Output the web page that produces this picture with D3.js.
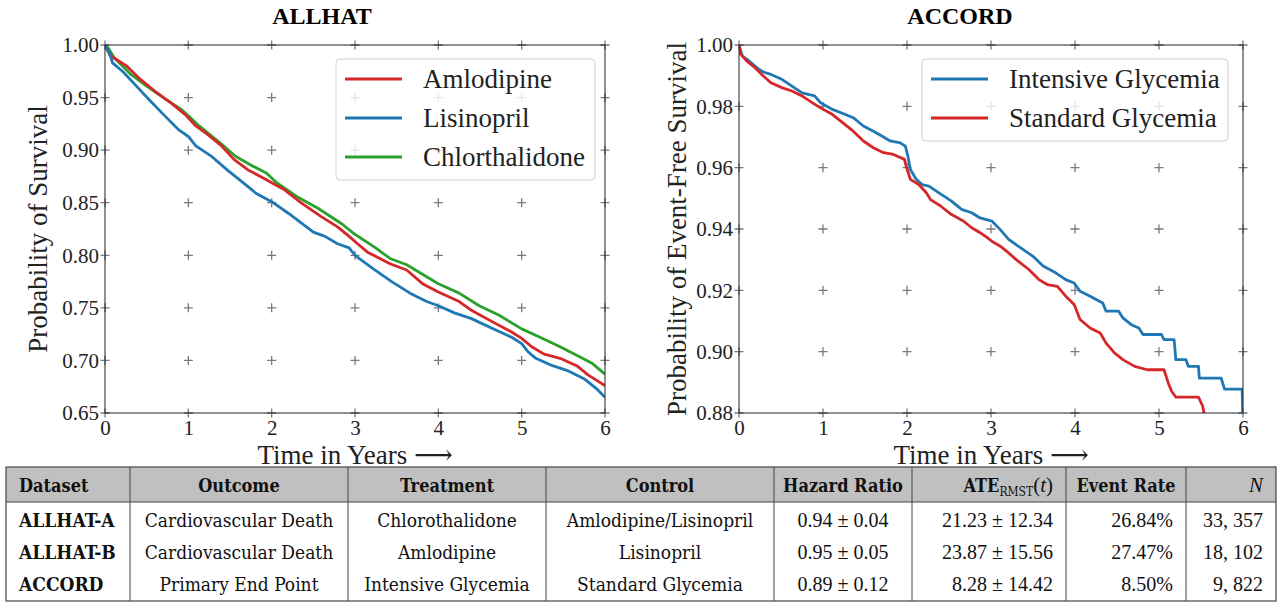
<!DOCTYPE html>
<html>
<head>
<meta charset="utf-8">
<script src="https://cdn.jsdelivr.net/npm/d3@7"></script>
<style>
  body { margin: 0; background: #fff; }
  svg { display: block; }
</style>
</head>
<body>
<div id="chart"></div>
<script>
// ---- data ----
const yearTicks = [0, 1, 2, 3, 4, 5, 6];
const allhatTicks = [0.65, 0.70, 0.75, 0.80, 0.85, 0.90, 0.95, 1.00];
const accordTicks = [0.88, 0.90, 0.92, 0.94, 0.96, 0.98, 1.00];

const allhatNames = ["Amlodipine", "Lisinopril", "Chlorthalidone"];
const accordNames = ["Intensive Glycemia", "Standard Glycemia"];

// [years, survival]
const amlodipine = [[0,1],[0.06,0.990],[0.14,0.986],[0.26,0.980],[0.40,0.969],[0.60,0.956],[0.79,0.945],[0.96,0.934],[1.09,0.923],[1.23,0.915],[1.40,0.904],[1.55,0.891],[1.72,0.881],[1.91,0.873],[2.0,0.869],[2.16,0.862],[2.35,0.850],[2.59,0.837],[2.79,0.827],[2.93,0.818],[3.03,0.811],[3.15,0.803],[3.42,0.792],[3.62,0.786],[3.81,0.773],[4.0,0.765],[4.25,0.756],[4.39,0.748],[4.69,0.735],[4.88,0.727],[5.0,0.721],[5.12,0.713],[5.27,0.706],[5.46,0.702],[5.66,0.695],[5.80,0.686],[6.0,0.676]];
const lisinopril = [[0,1],[0.06,0.991],[0.09,0.983],[0.21,0.975],[0.40,0.959],[0.53,0.948],[0.70,0.934],[0.89,0.919],[1.0,0.913],[1.09,0.904],[1.28,0.894],[1.47,0.881],[1.72,0.865],[1.81,0.859],[2.0,0.851],[2.2,0.840],[2.5,0.822],[2.64,0.818],[2.79,0.811],[2.93,0.807],[3.0,0.800],[3.22,0.787],[3.44,0.775],[3.66,0.764],[3.86,0.756],[4.0,0.752],[4.2,0.745],[4.39,0.740],[4.69,0.729],[4.88,0.722],[5.0,0.716],[5.08,0.708],[5.17,0.702],[5.37,0.695],[5.56,0.690],[5.76,0.682],[5.9,0.673],[6.0,0.665]];
const chlorthalidone = [[0,1],[0.04,0.997],[0.11,0.988],[0.31,0.972],[0.50,0.961],[0.70,0.950],[0.91,0.939],[1.01,0.932],[1.13,0.923],[1.38,0.907],[1.57,0.894],[1.77,0.885],[1.94,0.878],[2.06,0.869],[2.30,0.856],[2.55,0.845],[2.84,0.830],[2.98,0.821],[3.23,0.808],[3.42,0.797],[3.62,0.791],[4.0,0.773],[4.25,0.764],[4.49,0.752],[4.73,0.743],[5.0,0.730],[5.22,0.722],[5.46,0.713],[5.66,0.705],[5.85,0.697],[6.0,0.687]];

const intensive = [[0,1],[0.04,0.9964],[0.12,0.9948],[0.24,0.992],[0.29,0.9912],[0.38,0.9904],[0.51,0.9888],[0.63,0.9866],[0.75,0.9844],[0.90,0.9834],[0.97,0.9812],[1.11,0.979],[1.26,0.9774],[1.36,0.9763],[1.48,0.9736],[1.60,0.9719],[1.70,0.9703],[1.80,0.9687],[1.92,0.9681],[1.98,0.967],[2.01,0.9638],[2.04,0.9594],[2.11,0.9562],[2.18,0.9545],[2.26,0.954],[2.38,0.9518],[2.53,0.9491],[2.65,0.9464],[2.77,0.9453],[2.87,0.9436],[3.01,0.9426],[3.11,0.9398],[3.21,0.9366],[3.35,0.9339],[3.50,0.9311],[3.62,0.9279],[3.77,0.9257],[3.89,0.9235],[3.99,0.9224],[4.06,0.9197],[4.18,0.9181],[4.33,0.9159],[4.37,0.9132],[4.52,0.9132],[4.57,0.911],[4.67,0.9088],[4.76,0.9077],[4.81,0.9056],[5.03,0.9056],[5.06,0.9039],[5.18,0.9039],[5.20,0.8974],[5.32,0.8974],[5.35,0.8952],[5.47,0.8952],[5.48,0.8914],[5.74,0.8914],[5.78,0.8878],[5.99,0.8878],[6.0,0.875]];
const standard = [[0,1],[0.02,0.997],[0.09,0.9948],[0.19,0.9926],[0.29,0.9899],[0.38,0.9877],[0.51,0.9861],[0.63,0.985],[0.75,0.9834],[0.87,0.9812],[0.97,0.9795],[1.11,0.9774],[1.26,0.9741],[1.36,0.9719],[1.48,0.9687],[1.60,0.9665],[1.72,0.9649],[1.84,0.9643],[1.97,0.9627],[1.99,0.9605],[2.04,0.9562],[2.14,0.9545],[2.23,0.9518],[2.28,0.9496],[2.40,0.9475],[2.53,0.9447],[2.67,0.9426],[2.77,0.9404],[2.87,0.9388],[2.96,0.9371],[3.01,0.936],[3.11,0.9344],[3.21,0.9322],[3.30,0.930],[3.45,0.9268],[3.57,0.9235],[3.67,0.9219],[3.79,0.9213],[3.89,0.9181],[3.99,0.9154],[4.06,0.9105],[4.18,0.9077],[4.30,0.9061],[4.37,0.9028],[4.47,0.8996],[4.57,0.8974],[4.71,0.8952],[4.86,0.8941],[5.06,0.8941],[5.11,0.8898],[5.15,0.8871],[5.20,0.8852],[5.47,0.8852],[5.52,0.8822],[5.57,0.875]];

// table
const tableHeaders = ["Dataset", "Outcome", "Treatment", "Control", "Hazard Ratio", "ATE", "Event Rate", "N"];
const datasets = ["ALLHAT-A", "ALLHAT-B", "ACCORD"];
const outcomes = ["Cardiovascular Death", "Cardiovascular Death", "Primary End Point"];
const treatments = ["Chlorothalidone", "Amlodipine", "Intensive Glycemia"];
const controls = ["Amlodipine/Lisinopril", "Lisinopril", "Standard Glycemia"];
const hazardRatios = ["0.94 ± 0.04", "0.95 ± 0.05", "0.89 ± 0.12"];
const ateRmst = ["21.23 ± 12.34", "23.87 ± 15.56", "8.28 ± 14.42"];
const eventRates = ["26.84%", "27.47%", "8.50%"];
const sampleSizes = ["33, 357", "18, 102", "9, 822"];

const colors = { red: "#d62728", blue: "#1f77b4", green: "#2ca02c" };
const serif = "'Liberation Serif', 'DejaVu Serif', serif";
const textSerif = "'DejaVu Serif Condensed', 'DejaVu Serif', serif";

const svg = d3.select("#chart").append("svg")
    .attr("width", 1282)
    .attr("height", 603);

// draw one Kaplan-Meier panel
function panel(opts) {
    const x = d3.scaleLinear().domain([0, 6]).range([opts.left, opts.right]);
    const y = d3.scaleLinear().domain(opts.yDomain).range([413, 45]);
    const g = svg.append("g");

    const clipId = "clip-" + opts.id;
    svg.append("clipPath").attr("id", clipId)
        .append("rect")
        .attr("x", opts.left).attr("y", 45)
        .attr("width", opts.right - opts.left).attr("height", 368);

    // title
    g.append("text")
        .attr("x", opts.titleX)
        .attr("y", 24)
        .attr("text-anchor", "middle")
        .attr("font-family", serif)
        .attr("font-weight", "bold")
        .attr("font-size", "24px")
        .text(opts.title);

    // + markers at every tick crossing
    const grid = [];
    yearTicks.forEach(t => opts.yTicks.forEach(v => grid.push([t, v])));
    g.append("g").selectAll("path")
        .data(grid)
        .enter().append("path")
        .attr("d", d => `M${x(d[0]) - 4.5},${y(d[1])}H${x(d[0]) + 4.5}M${x(d[0])},${y(d[1]) - 4.5}V${y(d[1]) + 4.5}`)
        .attr("stroke", "#7a7a7a")
        .attr("stroke-width", 1.3);

    // curves
    const line = d3.line().x(d => x(d[0])).y(d => y(d[1]));
    g.append("g").attr("clip-path", `url(#${clipId})`)
        .selectAll("path")
        .data(opts.series)
        .enter().append("path")
        .attr("d", d => line(d.values))
        .attr("fill", "none")
        .attr("stroke", d => d.color)
        .attr("stroke-width", 2.8)
        .attr("stroke-linejoin", "round");

    // frame
    g.append("rect")
        .attr("x", opts.left).attr("y", 45)
        .attr("width", opts.right - opts.left).attr("height", 368)
        .attr("fill", "none")
        .attr("stroke", "#222")
        .attr("stroke-width", 1);

    // axes
    const xAxis = g.append("g")
        .attr("transform", "translate(0,413)")
        .call(d3.axisBottom(x).tickValues(yearTicks).tickFormat(d3.format("d")).tickSize(0).tickPadding(7));
    const yAxis = g.append("g")
        .attr("transform", `translate(${opts.left},0)`)
        .call(d3.axisLeft(y).tickValues(opts.yTicks).tickFormat(d3.format(".2f")).tickSize(0).tickPadding(6));
    [xAxis, yAxis].forEach(a => {
        a.select(".domain").remove();
        a.selectAll("text").attr("font-family", serif).attr("font-size", "21px").attr("fill", "#222");
    });

    // axis labels
    g.append("text")
        .attr("x", (opts.left + opts.right) / 2)
        .attr("y", 464)
        .attr("text-anchor", "middle")
        .attr("font-family", serif)
        .attr("font-size", "27px")
        .attr("fill", "#222")
        .text("Time in Years \u27F6");
    g.append("text")
        .attr("transform", `translate(${opts.left - opts.yLabelGap},229) rotate(-90)`)
        .attr("text-anchor", "middle")
        .attr("font-family", serif)
        .attr("font-size", "27px")
        .attr("fill", "#222")
        .text(opts.yLabel);

    // legend
    const lg = g.append("g").attr("transform", `translate(${opts.legendX},59)`);
    lg.append("rect")
        .attr("width", opts.legendW)
        .attr("height", 39 * opts.series.length + 4)
        .attr("rx", 4)
        .attr("fill", "#fff")
        .attr("fill-opacity", 0.8)
        .attr("stroke", "#d0d0d0");
    const items = lg.selectAll("g.item")
        .data(opts.legendOrder)
        .enter().append("g")
        .attr("class", "item")
        .attr("transform", (d, i) => `translate(0,${20 + i * 39})`);
    items.append("line")
        .attr("x1", 9).attr("x2", 66)
        .attr("stroke", d => d.color)
        .attr("stroke-width", 2.8);
    items.append("text")
        .attr("x", 87)
        .attr("y", 9)
        .attr("font-family", serif)
        .attr("font-size", "27px")
        .attr("fill", "#222")
        .text(d => d.name);
}

const allhatSeries = [
    { name: allhatNames[2], color: colors.green, values: chlorthalidone },
    { name: allhatNames[0], color: colors.red, values: amlodipine },
    { name: allhatNames[1], color: colors.blue, values: lisinopril }
];
panel({
    id: "allhat", title: "ALLHAT", titleX: 322,
    left: 105, right: 605,
    yDomain: [0.65, 1.0], yTicks: allhatTicks,
    yLabel: "Probability of Survival", yLabelGap: 58,
    series: allhatSeries,
    legendOrder: [allhatSeries[1], allhatSeries[2], allhatSeries[0]],
    legendX: 336, legendW: 259
});

const accordSeries = [
    { name: accordNames[0], color: colors.blue, values: intensive },
    { name: accordNames[1], color: colors.red, values: standard }
];
panel({
    id: "accord", title: "ACCORD", titleX: 960,
    left: 739, right: 1243,
    yDomain: [0.88, 1.0], yTicks: accordTicks,
    yLabel: "Probability of Event-Free Survival", yLabelGap: 53,
    series: accordSeries,
    legendOrder: accordSeries,
    legendX: 922, legendW: 306
});

// ---- table ----
const colEdges = [6, 130, 348, 546, 774, 912, 1066, 1186, 1276];
const tableTop = 467, headBottom = 502, tableBottom = 601;
const rowBaselines = [527, 559, 591];
const tbl = svg.append("g");

tbl.append("rect")
    .attr("x", colEdges[0]).attr("y", tableTop)
    .attr("width", colEdges[8] - colEdges[0]).attr("height", headBottom - tableTop)
    .attr("fill", "#c0c0c0");
tbl.append("rect")
    .attr("x", colEdges[0]).attr("y", tableTop)
    .attr("width", colEdges[8] - colEdges[0]).attr("height", tableBottom - tableTop)
    .attr("fill", "none").attr("stroke", "#444").attr("stroke-width", 1.2);
tbl.append("line")
    .attr("x1", colEdges[0]).attr("x2", colEdges[8])
    .attr("y1", headBottom).attr("y2", headBottom)
    .attr("stroke", "#444").attr("stroke-width", 1.2);
tbl.selectAll("line.div")
    .data(colEdges.slice(1, 8))
    .enter().append("line")
    .attr("class", "div")
    .attr("x1", d => d).attr("x2", d => d)
    .attr("y1", tableTop).attr("y2", tableBottom)
    .attr("stroke", "#444").attr("stroke-width", 1);

// align: where text sits in the column
const colAlign = ["start", "middle", "middle", "middle", "middle", "end", "end", "end"];
function colX(i) {
    if (colAlign[i] === "start") return colEdges[i] + 13;
    if (colAlign[i] === "end") return colEdges[i + 1] - 13;
    return (colEdges[i] + colEdges[i + 1]) / 2;
}
const headAlign = ["start", "middle", "middle", "middle", "middle", "end", "middle", "end"];
const headX = i => headAlign[i] === "middle" ? (colEdges[i] + colEdges[i + 1]) / 2 : colX(i);

tableHeaders.forEach((h, i) => {
    const t = tbl.append("text")
        .attr("x", headX(i))
        .attr("y", 492)
        .attr("text-anchor", headAlign[i])
        .attr("font-family", textSerif)
        .attr("font-stretch", "condensed")
        .attr("font-size", "18px")
        .attr("font-weight", "bold")
        .attr("fill", "#111");
    if (h === "ATE") {
        t.append("tspan").text("ATE");
        t.append("tspan").attr("font-size", "12px").attr("font-weight", "normal").attr("dy", 4).text("RMST");
        t.append("tspan").attr("font-family", serif).attr("font-weight", "normal").attr("font-size", "21px").attr("dy", -4).text("(");
        t.append("tspan").attr("font-family", serif).attr("font-weight", "normal").attr("font-style", "italic").attr("font-size", "21px").text("t");
        t.append("tspan").attr("font-family", serif).attr("font-weight", "normal").attr("font-size", "21px").text(")");
    } else if (h === "N") {
        t.attr("font-family", serif).attr("font-weight", "normal").attr("font-style", "italic").attr("font-size", "21px").text(h);
    } else {
        t.text(h);
    }
});

const columns = [datasets, outcomes, treatments, controls, hazardRatios, ateRmst, eventRates, sampleSizes];
columns.forEach((col, i) => {
    tbl.selectAll(null)
        .data(col)
        .enter().append("text")
        .attr("x", colX(i))
        .attr("y", (d, r) => rowBaselines[r])
        .attr("text-anchor", colAlign[i])
        .attr("font-family", i >= 4 ? serif : textSerif)
        .attr("font-stretch", i >= 4 ? "normal" : "condensed")
        .attr("font-size", i >= 4 ? "20px" : "19px")
        .attr("font-weight", i === 0 ? "bold" : "normal")
        .attr("fill", "#111")
        .text(d => d);
});
</script>
</body>
</html>
